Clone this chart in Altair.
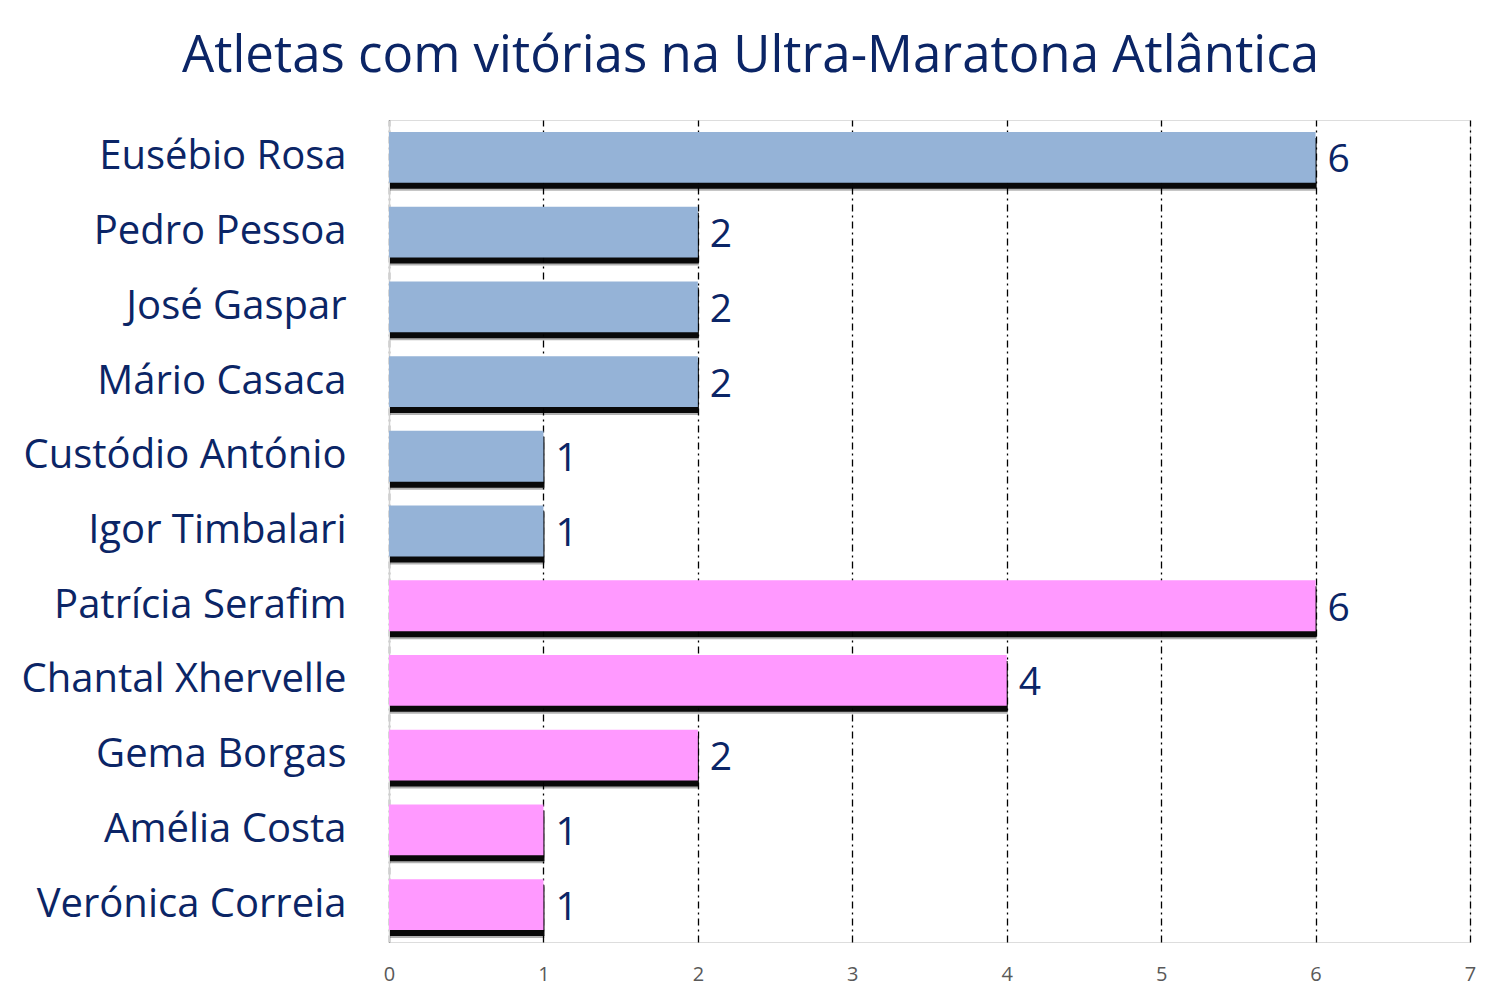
import altair as alt
import pandas as pd

athletes = ["Eusébio Rosa", "Pedro Pessoa", "José Gaspar", "Mário Casaca",
            "Custódio António", "Igor Timbalari", "Patrícia Serafim",
            "Chantal Xhervelle", "Gema Borgas", "Amélia Costa", "Verónica Correia"]
wins = [6, 2, 2, 2, 1, 1, 6, 4, 2, 1, 1]
group = ["M", "M", "M", "M", "M", "M", "F", "F", "F", "F", "F"]
x_ticks = [0, 1, 2, 3, 4, 5, 6, 7]

df = pd.DataFrame({"atleta": athletes, "vitorias": wins, "grupo": group})

NAVY = "#0B2566"
FONT = "Open Sans"

y_enc = alt.Y("atleta:N", sort=athletes,
              scale=alt.Scale(paddingInner=0.32, paddingOuter=0.16),
              axis=alt.Axis(title=None, labelFontSize=40, labelColor=NAVY,
                            labelFont=FONT, labelPadding=43, ticks=False,
                            domain=True, domainColor="#d0d0d0", domainWidth=1.5,
                            labelLimit=500))
x_enc = alt.X("vitorias:Q",
              scale=alt.Scale(domain=[0, 7], nice=False),
              axis=alt.Axis(title=None, values=x_ticks, format="d",
                            labelFontSize=20, labelColor="#595959", labelFont=FONT,
                            labelPadding=22, ticks=False, domain=False,
                            labelFlush=False,
                            grid=True, gridColor="#000000", gridWidth=1.3,
                            gridDash=[7, 4, 2, 4]))

base = alt.Chart(df)

shadow2 = base.mark_bar(color="#000000", opacity=0.3, yOffset=8, xOffset=1).encode(
    x=x_enc, y=y_enc)
shadow = base.mark_bar(color="#000000", opacity=0.95, yOffset=6, xOffset=1).encode(
    x=x_enc, y=y_enc)
bars = base.mark_bar().encode(
    x=x_enc, y=y_enc,
    color=alt.Color("grupo:N",
                    scale=alt.Scale(domain=["M", "F"], range=["#95B3D7", "#FF99FF"]),
                    legend=None))
labels = base.mark_text(align="left", baseline="middle", dx=12, dy=3,
                        fontSize=39, color=NAVY, font=FONT).encode(
    x="vitorias:Q", y=alt.Y("atleta:N", sort=athletes), text="vitorias:Q")

chart = alt.layer(shadow2, shadow, bars, labels).properties(
    width=1081, height=822,
    title=alt.TitleParams("Atletas com vitórias na Ultra-Maratona Atlântica",
                          fontSize=51, font=FONT, color=NAVY, fontWeight="normal",
                          anchor="middle", dx=-179, offset=37),
    autosize=alt.AutoSizeParams(type="none"),
    padding={"left": 381, "top": 112, "right": 20, "bottom": 60},
).configure_view(strokeWidth=0, stroke="transparent").configure(background="white")

chart.save("out.html", embed_options={"renderer": "svg", "actions": False})
